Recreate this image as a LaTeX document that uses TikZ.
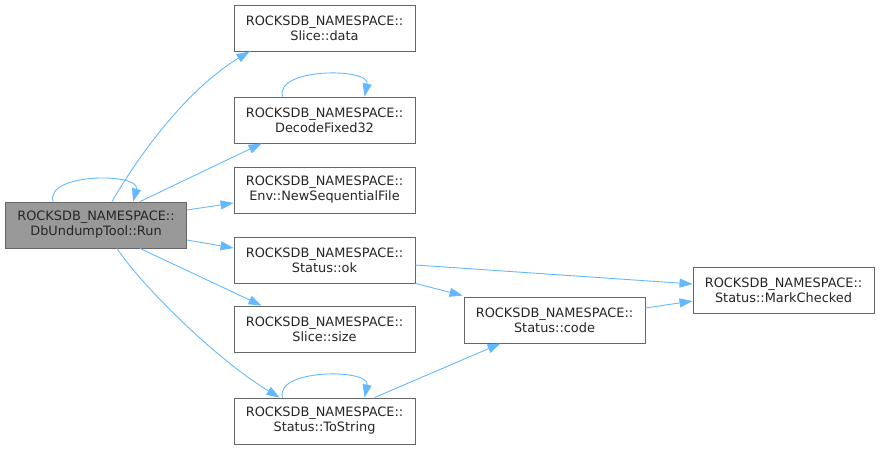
\documentclass[tikz,border=0pt]{standalone}
\usepackage{fontspec}
\setmainfont{DejaVu Sans}
\usetikzlibrary{arrows.meta}
\definecolor{edgec}{RGB}{99,184,255}
\definecolor{boxc}{RGB}{102,102,102}
\definecolor{runfill}{RGB}{153,153,153}
\begin{document}
\begin{tikzpicture}[x=1pt,y=-1pt,
  fn/.style={draw=boxc,fill=white,line width=0.9pt,rectangle,inner sep=0pt,
    minimum width=181pt,minimum height=46pt,align=center,
    font=\fontsize{12.9}{15}\selectfont,text=black!85},
  cur/.style={fn,fill=runfill},
  call/.style={draw=edgec,line width=0.9pt,-{Triangle[length=13pt,width=9pt]}}]
\useasboundingbox (0,0) rectangle (880,450);
\node[cur] (run) at (96,225) {ROCKSDB\_NAMESPACE::\\DbUndumpTool::Run};
\node[fn] (data) at (324.5,28) {ROCKSDB\_NAMESPACE::\\Slice::data};
\node[fn] (dec) at (324.5,120) {ROCKSDB\_NAMESPACE::\\DecodeFixed32};
\node[fn] (nsf) at (324.5,190) {ROCKSDB\_NAMESPACE::\\Env::NewSequentialFile};
\node[fn] (ok) at (324.5,260) {ROCKSDB\_NAMESPACE::\\Status::ok};
\node[fn] (size) at (324.5,329) {ROCKSDB\_NAMESPACE::\\Slice::size};
\node[fn] (ts) at (324.5,421) {ROCKSDB\_NAMESPACE::\\Status::ToString};
\node[fn] (code) at (554.5,320) {ROCKSDB\_NAMESPACE::\\Status::code};
\node[fn] (mark) at (783.5,290) {ROCKSDB\_NAMESPACE::\\Status::MarkChecked};

\draw[call] ([xshift=48]run.north west) .. controls ([xshift=40,yshift=29]run.north west) and ([xshift=136,yshift=29]run.north west) .. ([xshift=128]run.north west);
\draw[call] ([xshift=107]run.north west) .. controls ([xshift=130,yshift=40]run.north west) and ([xshift=-50,yshift=-40]data.south west) .. ([xshift=16]data.south west);
\draw[call] ([xshift=135]run.north west) -- ([xshift=28]dec.south west);
\draw[call] ([yshift=15]run.east) -- ([yshift=-13]nsf.west);
\draw[call] ([yshift=-15]run.east) -- ([yshift=12]ok.west);
\draw[call] ([xshift=135]run.south west) -- ([xshift=28]size.north west);
\draw[call] ([xshift=112]run.south west) .. controls ([xshift=135,yshift=-35]run.south west) and ([xshift=-20,yshift=40]ts.north west) .. ([xshift=46]ts.north west);
\draw[call] ([xshift=49]dec.north west) .. controls ([xshift=41,yshift=29]dec.north west) and ([xshift=137,yshift=29]dec.north west) .. ([xshift=131]dec.north west);
\draw[call] ([xshift=49]ts.north west) .. controls ([xshift=41,yshift=29]ts.north west) and ([xshift=137,yshift=29]ts.north west) .. ([xshift=131]ts.north west);
\draw[call] ([yshift=-5]ok.east) -- ([yshift=6]mark.west);
\draw[call] (ok.south east) -- ([xshift=-1,yshift=1]code.north west);
\draw[call] ([yshift=12]code.east) -- ([yshift=-11]mark.west);
\draw[call] ([xshift=141]ts.north west) -- ([xshift=37]code.south west);
\end{tikzpicture}
\end{document}
